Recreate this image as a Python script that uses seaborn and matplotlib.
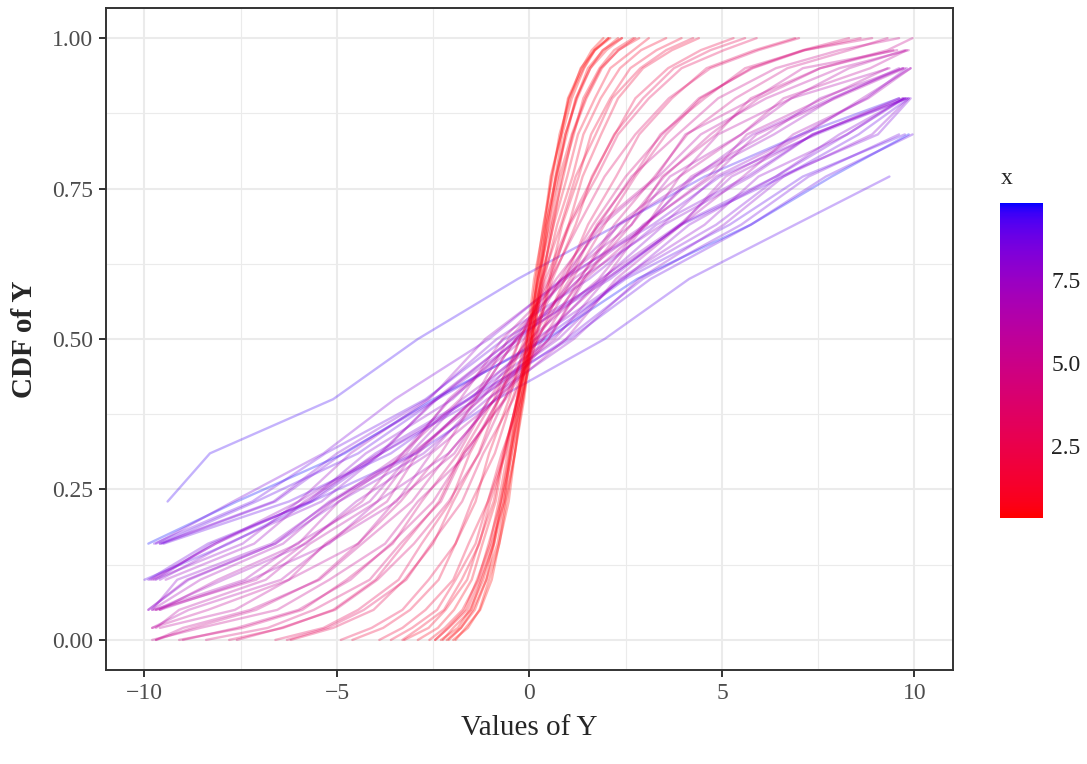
import numpy as np
import pandas as pd
import matplotlib
matplotlib.use("Agg")
import matplotlib.pyplot as plt
from matplotlib.colors import ListedColormap, Normalize
from matplotlib.cm import ScalarMappable
import seaborn as sns

# CDF level of every vertex of a curve (shared by all curves)
cdf_levels = [0.00, 0.02, 0.05, 0.10, 0.16, 0.23, 0.31, 0.40, 0.50,
              0.60, 0.69, 0.77, 0.84, 0.90, 0.95, 0.98, 1.00]

# colour value (x) of each curve
x_values = [0.33, 0.42, 0.50, 0.67, 0.83, 1.17, 1.57, 1.92, 2.34, 2.76,
            3.18, 3.60, 4.02, 4.37, 4.86, 5.08, 5.42, 5.58, 5.83, 6.08,
            6.25, 6.50, 6.67, 6.92, 7.08, 7.33, 7.50, 7.67, 7.79, 7.96,
            8.08, 8.25, 8.36, 8.53, 8.65, 8.82, 8.99, 9.10, 9.80, 9.50,
            0.37, 0.47, 0.58, 0.75, 0.92, 1.33, 1.78, 2.97, 4.16, 5.25,
            6.00, 6.83, 7.50, 7.96, 8.42, 8.88]

# Y value of each curve at the levels above
y_curves = [
    [-1.98, -1.60, -1.30, -1.05, -0.78, -0.60, -0.38, -0.21, 0.02, 0.19, 0.41, 0.57, 0.82, 1.00, 1.35, 1.62, 1.92],
    [-2.15, -1.78, -1.47, -1.12, -0.92, -0.66, -0.50, -0.25, -0.04, 0.16, 0.36, 0.60, 0.78, 1.05, 1.33, 1.70, 2.05],
    [-2.10, -1.78, -1.42, -1.12, -0.83, -0.63, -0.38, -0.17, 0.06, 0.29, 0.48, 0.74, 0.93, 1.22, 1.52, 1.92, 2.30],
    [-2.45, -2.12, -1.68, -1.36, -1.02, -0.80, -0.57, -0.29, -0.06, 0.22, 0.43, 0.70, 0.93, 1.24, 1.58, 2.00, 2.40],
    [-2.60, -2.20, -1.74, -1.33, -1.06, -0.74, -0.52, -0.20, 0.06, 0.35, 0.58, 0.88, 1.12, 1.48, 1.88, 2.30, 2.85],
    [-3.25, -2.62, -2.18, -1.62, -1.32, -0.93, -0.68, -0.30, 0.03, 0.31, 0.63, 0.98, 1.26, 1.70, 2.10, 2.70, 3.10],
    [-3.60, -3.05, -2.40, -1.92, -1.40, -1.08, -0.64, -0.32, 0.12, 0.52, 0.85, 1.28, 1.60, 2.10, 2.62, 3.30, 3.95],
    [-4.60, -3.80, -3.10, -2.36, -1.92, -1.40, -1.05, -0.53, -0.08, 0.33, 0.82, 1.20, 1.72, 2.15, 2.88, 3.55, 4.25],
    [-4.90, -4.10, -3.30, -2.62, -1.92, -1.50, -0.90, -0.45, 0.14, 0.60, 1.20, 1.62, 2.22, 2.75, 3.60, 4.45, 5.30],
    [-6.20, -5.10, -4.05, -3.25, -2.50, -1.98, -1.32, -0.80, -0.12, 0.42, 1.02, 1.65, 2.20, 2.95, 3.75, 4.70, 5.60],
    [-6.30, -5.25, -4.30, -3.20, -2.55, -1.75, -1.20, -0.42, 0.22, 0.92, 1.52, 2.25, 2.85, 3.70, 4.60, 5.85, 6.90],
    [-7.80, -6.40, -5.10, -4.00, -3.25, -2.35, -1.75, -0.92, -0.25, 0.55, 1.28, 1.95, 2.75, 3.62, 4.70, 5.95, 7.00],
    [-7.60, -6.45, -5.05, -3.95, -3.00, -2.10, -1.30, -0.65, 0.20, 1.12, 1.95, 2.75, 3.55, 4.45, 5.75, 7.10, 8.30],
    [-9.10, -7.45, -5.90, -4.75, -3.55, -2.80, -1.85, -1.05, -0.05, 0.80, 1.65, 2.50, 3.45, 4.40, 5.80, 7.15, 8.90],
    [-9.00, -7.60, -6.00, -4.65, -3.60, -2.50, -1.70, -0.62, 0.35, 1.30, 2.20, 3.25, 4.10, 5.35, 6.70, 8.30, 9.30],
    [-9.70, -8.75, -7.10, -5.50, -4.45, -3.35, -2.30, -1.40, -0.35, 0.70, 1.80, 2.65, 3.85, 4.90, 6.40, 8.05, 9.60],
    [-9.70, -9.00, -7.25, -5.45, -4.35, -3.05, -2.10, -0.90, 0.15, 1.40, 2.50, 3.50, 4.70, 5.95, 7.55, 9.45, 11.30],
    [-11.90, -9.80, -8.35, -6.25, -5.30, -3.70, -2.90, -1.45, -0.55, 0.95, 1.80, 3.30, 4.05, 5.85, 7.10, 9.55, 11.10],
    [-11.90, -9.60, -7.65, -6.25, -4.45, -3.50, -1.95, -1.05, 0.50, 1.45, 3.05, 3.90, 5.50, 6.60, 8.85, 9.80, 12.60],
    [-13.20, -9.70, -9.10, -6.85, -5.70, -3.95, -3.00, -1.40, -0.35, 1.30, 2.30, 3.90, 4.90, 6.80, 8.30, 9.75, 12.80],
    [-13.10, -9.80, -8.85, -6.45, -5.25, -3.45, -2.55, -0.85, 0.25, 1.95, 3.00, 4.65, 5.65, 7.65, 9.30, 11.70, 13.90],
    [-14.70, -12.30, -9.60, -8.10, -6.00, -4.95, -3.20, -2.10, -0.30, 0.85, 2.65, 3.65, 5.50, 6.80, 9.35, 11.45, 13.80],
    [-14.60, -12.20, -9.75, -7.40, -6.05, -4.15, -3.05, -1.25, 0.00, 1.80, 2.95, 4.75, 5.90, 7.95, 9.75, 12.40, 14.80],
    [-15.70, -13.20, -9.80, -8.55, -6.40, -5.10, -3.30, -2.05, -0.15, 1.15, 3.05, 4.20, 6.15, 7.55, 9.70, 12.60, 15.10],
    [-15.40, -12.80, -9.70, -7.95, -5.80, -4.50, -2.60, -1.30, 0.65, 2.00, 3.95, 5.10, 7.15, 8.65, 9.90, 13.80, 16.40],
    [-17.30, -14.50, -11.80, -9.45, -7.15, -5.85, -3.85, -2.45, -0.45, 0.95, 3.00, 4.30, 6.35, 7.90, 9.60, 13.30, 16.10],
    [-17.00, -14.20, -9.90, -8.90, -6.60, -5.20, -3.10, -1.75, 0.35, 1.85, 3.90, 5.25, 7.40, 9.60, 11.70, 14.60, 17.40],
    [-18.30, -15.40, -12.40, -9.75, -7.45, -6.00, -3.90, -2.40, -0.25, 1.30, 3.45, 4.85, 7.05, 8.75, 9.80, 14.60, 17.50],
    [-17.80, -14.80, -9.80, -9.15, -6.70, -5.15, -2.95, -1.45, 0.75, 2.35, 4.55, 5.95, 8.25, 9.70, 12.90, 16.00, 19.00],
    [-19.30, -16.20, -13.00, -9.85, -8.15, -5.75, -4.25, -2.00, -0.35, 1.90, 3.50, 5.75, 7.35, 9.80, 12.60, 15.80, 18.90],
    [-19.30, -16.10, -12.90, -9.60, -7.85, -5.40, -3.85, -1.55, 0.15, 2.45, 4.15, 6.40, 8.05, 9.75, 13.50, 16.70, 19.90],
    [-21.00, -17.70, -14.35, -11.30, -9.60, -6.65, -5.00, -2.65, -0.85, 1.55, 3.30, 5.65, 7.35, 9.70, 12.95, 16.30, 19.60],
    [-20.40, -17.00, -13.60, -9.70, -8.25, -5.70, -4.00, -1.60, 0.55, 2.40, 4.85, 6.50, 9.05, 9.90, 14.40, 17.80, 21.20],
    [-21.90, -18.30, -14.80, -11.60, -9.55, -6.60, -4.85, -2.40, -0.45, 2.10, 3.90, 6.40, 8.25, 9.75, 14.20, 17.70, 21.30],
    [-21.30, -17.70, -14.00, -9.90, -8.35, -5.65, -3.85, -1.35, 0.95, 2.95, 5.50, 7.25, 9.60, 12.30, 15.60, 19.30, 22.90],
    [-23.30, -19.60, -15.80, -12.40, -9.75, -7.20, -5.30, -2.70, -0.65, 2.00, 3.95, 6.60, 8.55, 9.85, 14.80, 18.60, 22.30],
    [-23.30, -19.50, -15.60, -12.10, -9.60, -7.10, -4.45, -2.40, 0.35, 2.50, 5.20, 7.10, 9.75, 12.50, 16.00, 19.90, 23.70],
    [-22.20, -18.30, -14.30, -10.00, -7.80, -5.65, -2.95, -0.85, 1.95, 4.15, 6.90, 9.35, 11.55, 14.30, 17.90, 21.90, 25.80],
    [-25.40, -21.20, -17.00, -13.10, -9.90, -7.60, -4.80, -2.50, 0.45, 2.80, 5.75, 7.85, 9.85, 13.75, 17.60, 21.80, 26.00],
    [-26.00, -22.20, -18.30, -14.90, -12.15, -9.40, -8.30, -5.10, -2.90, -0.30, 2.30, 4.55, 7.05, 9.60, 12.90, 16.80, 20.60],
    [-1.92, -1.66, -1.28, -0.98, -0.79, -0.54, -0.38, -0.14, 0.06, 0.27, 0.44, 0.68, 0.85, 1.10, 1.42, 1.70, 2.10],
    [-2.30, -1.86, -1.55, -1.20, -0.94, -0.75, -0.50, -0.32, -0.07, 0.12, 0.38, 0.55, 0.82, 1.02, 1.40, 1.68, 2.05],
    [-2.25, -1.98, -1.52, -1.25, -0.92, -0.72, -0.45, -0.26, 0.02, 0.22, 0.50, 0.68, 0.97, 1.20, 1.58, 1.90, 2.40],
    [-2.45, -2.10, -1.62, -1.28, -0.98, -0.66, -0.47, -0.17, 0.10, 0.33, 0.62, 0.84, 1.15, 1.40, 1.82, 2.20, 2.70],
    [-2.90, -2.38, -1.96, -1.50, -1.22, -0.88, -0.66, -0.32, -0.03, 0.22, 0.55, 0.78, 1.10, 1.45, 1.85, 2.32, 2.75],
    [-3.30, -2.85, -2.22, -1.76, -1.30, -1.02, -0.62, -0.33, 0.08, 0.38, 0.72, 1.12, 1.40, 1.85, 2.35, 2.90, 3.55],
    [-3.90, -3.30, -2.70, -1.98, -1.58, -1.08, -0.72, -0.22, 0.18, 0.55, 1.02, 1.38, 1.86, 2.30, 2.95, 3.70, 4.40],
    [-6.60, -5.35, -4.45, -3.40, -2.80, -2.05, -1.55, -0.80, -0.25, 0.50, 1.05, 1.75, 2.30, 3.10, 3.95, 5.05, 5.90],
    [-8.40, -6.80, -5.60, -4.15, -3.35, -2.30, -1.70, -0.65, 0.05, 1.05, 1.75, 2.70, 3.40, 4.55, 5.60, 7.15, 8.60],
    [-9.80, -8.55, -6.55, -5.20, -3.75, -2.90, -1.60, -0.80, 0.50, 1.40, 2.65, 3.45, 4.85, 5.75, 7.55, 9.30, 9.95],
    [-13.30, -11.20, -9.70, -7.10, -5.85, -4.35, -3.30, -1.80, -0.70, 0.85, 1.90, 3.35, 4.45, 6.15, 8.05, 9.85, 12.10],
    [-14.40, -11.90, -9.60, -7.25, -5.20, -3.95, -2.10, -0.90, 0.95, 2.25, 3.95, 5.55, 6.85, 8.80, 9.90, 13.50, 16.00],
    [-18.20, -15.40, -12.50, -9.80, -8.15, -6.00, -4.65, -2.60, -1.15, 0.90, 2.35, 4.30, 5.80, 7.85, 9.70, 13.40, 16.20],
    [-18.10, -15.00, -9.90, -8.85, -6.60, -4.95, -2.75, -1.10, 1.15, 2.85, 5.05, 6.60, 8.90, 9.85, 13.80, 17.00, 20.10],
    [-22.30, -18.80, -15.40, -12.20, -9.70, -7.70, -5.35, -3.50, -1.05, 0.85, 3.20, 4.95, 7.45, 9.80, 12.90, 16.40, 19.90],
    [-22.10, -18.40, -14.60, -11.10, -9.50, -6.25, -3.60, -1.60, 1.05, 3.15, 5.75, 7.70, 9.95, 12.90, 16.40, 20.20, 23.90],
]

# red -> blue gradient interpolated in CIELAB (like ggplot's scale_colour_gradient)
M = np.array([[0.4124564, 0.3575761, 0.1804375],
              [0.2126729, 0.7151522, 0.0721750],
              [0.0193339, 0.1191920, 0.9503041]])
WHITE = M.sum(axis=1)
EPS, KAPPA = 216 / 24389, 24389 / 27


def to_lab(rgb):
    c = np.asarray(rgb, float)
    lin = np.where(c <= 0.04045, c / 12.92, ((c + 0.055) / 1.055) ** 2.4)
    xyz = M @ lin / WHITE
    f = np.where(xyz > EPS, np.cbrt(xyz), (KAPPA * xyz + 16) / 116)
    return np.array([116 * f[1] - 16, 500 * (f[0] - f[1]), 200 * (f[1] - f[2])])


def from_lab(lab):
    L, a, b = lab
    fy = (L + 16) / 116
    f = np.array([fy + a / 500, fy, fy - b / 200])
    xyz = np.where(f ** 3 > EPS, f ** 3, (116 * f - 16) / KAPPA) * WHITE
    lin = np.clip(np.linalg.solve(M, xyz), 0, 1)
    c = np.where(lin <= 0.0031308, 12.92 * lin, 1.055 * lin ** (1 / 2.4) - 0.055)
    return np.clip(c, 0, 1)


lab_lo, lab_hi = to_lab([1, 0, 0]), to_lab([0, 0, 1])
cmap = ListedColormap([from_lab(lab_lo + t * (lab_hi - lab_lo))
                       for t in np.linspace(0, 1, 256)])
norm = Normalize(min(x_values), max(x_values))

# long table, points outside the x scale limits are dropped (as ggplot does)
rows = []
for i, (xv, ys) in enumerate(zip(x_values, y_curves)):
    for yv, p in zip(ys, cdf_levels):
        rows.append({"curve": i, "x": xv, "Y": yv, "cdf": p})
df = pd.DataFrame(rows)
df = df[(df["Y"] >= -10) & (df["Y"] <= 10)]

sns.set_theme(style="whitegrid")
plt.rcParams["font.family"] = ["Liberation Serif", "DejaVu Serif"]

fig = plt.figure(figsize=(10.87, 7.64), dpi=100)
ax = fig.add_axes([0.0975, 0.123, 0.7792, 0.8665])
cax = fig.add_axes([0.920, 0.322, 0.0396, 0.412])

# blue curves first so the red ones end up on top
order = df.groupby("curve")["x"].first().sort_values(ascending=False).index
for c in order:
    sub = df[df["curve"] == c]
    sns.lineplot(data=sub, x="Y", y="cdf", color=cmap(norm(sub["x"].iloc[0])),
                 alpha=0.3, lw=1.7, ax=ax, legend=False, estimator=None)

ax.set_xlim(-11, 11)
ax.set_ylim(-0.05, 1.05)
ax.set_xticks([-10, -5, 0, 5, 10])
ax.set_xticks([-7.5, -2.5, 2.5, 7.5], minor=True)
ax.set_yticks([0, 0.25, 0.5, 0.75, 1.0])
ax.set_yticks([0.125, 0.375, 0.625, 0.875], minor=True)
ax.set_xticklabels(["\u221210", "\u22125", "0", "5", "10"])
ax.set_yticklabels(["0.00", "0.25", "0.50", "0.75", "1.00"])
ax.grid(which="major", color="#EBEBEB", lw=1.5)
ax.grid(which="minor", color="#EBEBEB", lw=0.8)
ax.set_axisbelow(True)
for s in ax.spines.values():
    s.set_color("#333333")
    s.set_linewidth(1.4)
ax.tick_params(which="major", length=5, width=1.4, color="#333333",
               labelsize=17, labelcolor="#4D4D4D", pad=4,
               bottom=True, left=True)
ax.tick_params(which="minor", length=0)
ax.set_xlabel("Values of Y", fontsize=21, labelpad=8)
ax.set_ylabel("CDF of Y", fontsize=21, fontweight="bold", labelpad=10)

cb = fig.colorbar(ScalarMappable(norm=norm, cmap=cmap), cax=cax)
cb.outline.set_visible(False)
cb.set_ticks([2.5, 5.0, 7.5])
cb.set_ticklabels(["2.5", "5.0", "7.5"])
cb.minorticks_off()
cax.grid(False)
cax.tick_params(which="major", length=8, width=1.2, color="white",
                direction="in", left=True, right=True,
                labelleft=False, labelright=True, labelsize=17, pad=6,
                labelcolor="#222222")
fig.text(0.921, 0.752, "x", fontsize=17, ha="left", va="bottom")

fig.savefig("out.png", dpi=100)
